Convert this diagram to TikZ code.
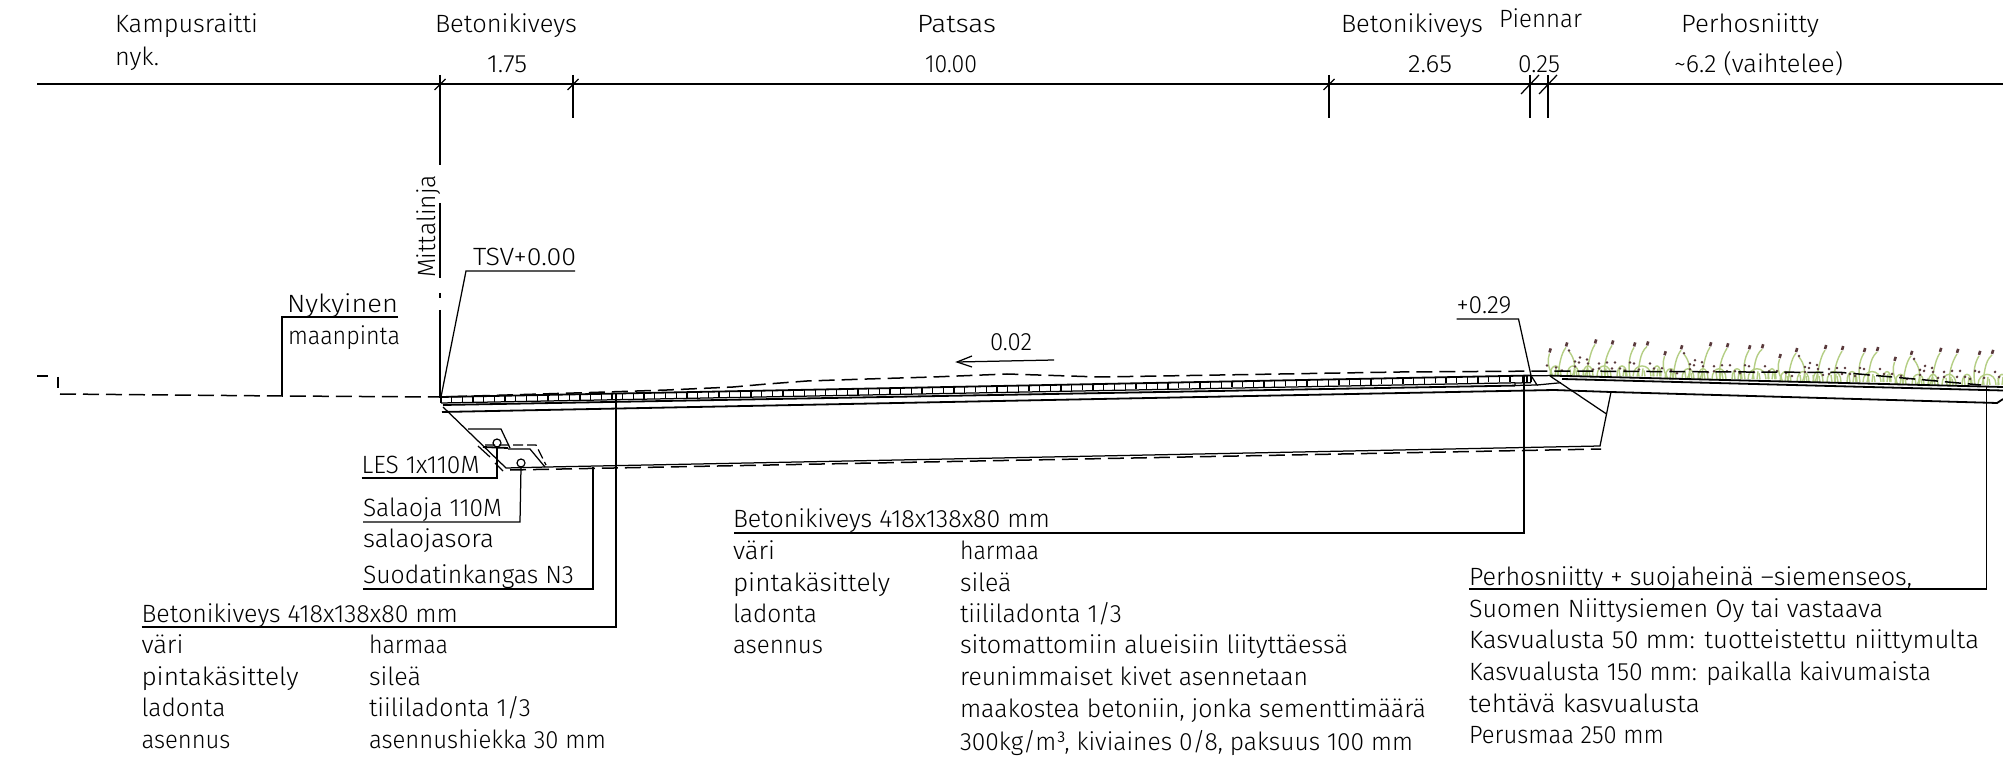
\documentclass[tikz,border=0pt]{standalone}
\usepackage{graphicx}
\usepackage{fontspec}
\setmainfont{Fira Sans Light}
\newcommand\fit[2]{\resizebox{#1pt}{\height}{#2}}
\definecolor{stemgreen}{HTML}{B4CE84}
\definecolor{seedbrown}{HTML}{5A3A3C}
\tikzset{
  lbl/.style={anchor=base west,inner sep=0pt,outer sep=0pt,font=\fontsize{25}{28}\selectfont,text=black},
  dimline/.style={line width=1.6pt},
  thinline/.style={line width=1.25pt},
  baseline/.style={line width=1.8pt},
  ground/.style={line width=1.5pt,dash pattern=on 16pt off 7pt},
  stem/.style={draw=stemgreen,line width=1.4pt},
  seed/.style={draw=seedbrown,line width=2.6pt},
  seeddot/.style={fill=seedbrown,radius=1.4pt}
}
\newcommand\meadowtile{%
  \draw[stem] (6,1) .. controls (1,-8) and (0,-15) .. (2.5,-22);
  \draw[stem] (11,1) .. controls (12,-10) and (14,-22) .. (19,-28);
  \draw[stem] (25,1) .. controls (30,-8) and (27,-18) .. (22,-24);
  \draw[stem] (38,1) .. controls (42,-10) and (42,-22) .. (48,-31);
  \draw[stem] (58,1) .. controls (56,-10) and (60,-22) .. (65,-30);
  \draw[stem] (83,1) .. controls (81,-10) and (82,-20) .. (87,-28);
  \draw[stem] (90,1) .. controls (93,-10) and (92,-22) .. (100,-29);
  \foreach \a/\b/\c in {3/8/14,20/27/32,36/40/46,50/58/64,70/76/80,86/95/104,106/110/114}{
    \draw[stem] (\a,1) .. controls (\a,-13) and (\c,-13) .. (\c,1);
    \draw[stem] (\b,1) -- (\b+1,-7);
    \draw[stem] (\b+3,1) -- (\b+2,-5);
    \draw[stem] (\b-3,1) -- (\b-4,-6);
  }
  \foreach \a/\b in {2.5/-23,19/-29,48/-32,65/-31,87/-29,100/-30}{
    \draw[seed] (\a,\b) -- (\a+1.2,\b-4);
  }
  \foreach \a/\b in {9/-8,0/-10,22/-25,28/-9,33/-18,28/-14,32/-13,40/-16,41/-12,52/-12,52/-7,60/-13,68/-13,65/-7,73/-7,83/-13,87/-12,92/-6,103/-12,107/-7,15/-5,46/-6,78/-5}{
    \fill[seeddot] (\a,\b) circle;
  }
}
\begin{document}
\begin{tikzpicture}[x=1pt,y=-1pt]
\useasboundingbox (0,0) rectangle (2003,783);
\fill[white] (0,0) rectangle (2003,783);

% meadow planting
\begin{scope}
  \clip (1530,330) rectangle (2003,395);
  \foreach \k in {0,1,2,3}{
    \pgfmathsetmacro\tx{1547+115*\k}
    \pgfmathsetmacro\ty{375.5+0.0245*(\tx-1550)}
    \begin{scope}[shift={(\tx,\ty)}]
      \meadowtile
    \end{scope}
  }
\end{scope}

% dimension line
\draw[dimline] (37,84) -- (2003,84);
\foreach \x/\yb in {573/118,1329/118,1530/118,1548/118}{
  \draw[thinline] (\x,75) -- (\x,\yb);
}
\foreach \x in {440,573,1329}{
  \draw[thinline] (\x-5.5,90) -- (\x+5.5,79);
}
\foreach \x in {1530,1548}{
  \draw[thinline] (\x-9,94) -- (\x+9,75);
}
% measure line
\draw[thinline] (440,75) -- (440,165);
\draw[thinline] (440,203) -- (440,278);
\draw[thinline] (440,293) -- (440,298);
\draw[thinline] (440,310) -- (440,398);

% top labels
\node[lbl] (kamp) at (115,33) {\fit{143}{Kampusraitti}};
\node[lbl] (nyk) at (115,66) {\fit{44}{nyk.}};
\node[lbl] (bet1) at (435,33) {\fit{142}{Betonikiveys}};
\node[lbl] (d175) at (487,73) {\fit{40}{1.75}};
\node[lbl] (pat) at (917,33) {\fit{79}{Patsas}};
\node[lbl] (d10) at (925,73) {\fit{52}{10.00}};
\node[lbl] (bet2) at (1341,33) {\fit{142}{Betonikiveys}};
\node[lbl] (pien) at (1499,28) {\fit{83}{Piennar}};
\node[lbl] (d265) at (1408,73) {\fit{44}{2.65}};
\node[lbl] (d025) at (1518,73) {\fit{42}{0.25}};
\node[lbl] (perh) at (1681,33) {\fit{138}{Perhosniitty}};
\node[lbl] (d62) at (1674,73) {\fit{169}{\textasciitilde6.2 (vaihtelee)}};
\node[lbl,rotate=90] (mitta) at (435,278) {\fit{103}{Mittalinja}};

% existing ground
\draw[thinline] (37,376) -- (48,376);
\draw[thinline] (58,377) -- (58,388);
\draw[ground] (60,394) -- (282,396) -- (441,397) -- (607,392) -- (667,390) -- (733,387) -- (767,384) -- (807,381) -- (867,379) -- (933,377) -- (1007,374) -- (1100,377) -- (1250,374.5) -- (1400,372) -- (1554,371) -- (1842,372.5) -- (1981,385);

% pavement
\coordinate (pA) at (441,397);
\coordinate (pB) at (1531,375.5);
\draw[baseline] (pA) -- (pB);
\draw[thinline] (441,403) -- (1515,382.8);
\draw[baseline] (443,405) -- (1515,385.6);
\draw[thinline] (441,397) -- (441,403);
\foreach \i in {1,...,100}{
  \pgfmathsetmacro\xa{441+10.69*\i}
  \pgfmathsetmacro\ya{397-0.0197*(\xa-441)}
  \draw[line width=1.3pt] (\xa,\ya) -- (\xa,\ya+6);
}
\foreach \xa in {1523,1527,1531}{
  \pgfmathsetmacro\ya{397-0.0197*(\xa-441)}
  \draw[line width=1.3pt] (\xa,\ya) -- (\xa,\ya+6.5);
}
% kerb end
\draw[thinline] (1515,383) -- (1515,385.5) -- (1537,385) -- (1531,375.5);
\draw[thinline] (1515,383) -- (1531,382.7);
\draw[thinline] (1531,375.8) -- (1550,375.6);
\draw[thinline] (1537,385) -- (1561,382.7);
% base course
\draw[baseline] (442,412) -- (1554,390) -- (1611,392) -- (1997,403) -- (2003,399);
\draw[thinline] (1550,376) -- (1606.5,414);
\draw[thinline] (1611,392) -- (1600,446) -- (547,467) -- (506,468) -- (443,407);
\draw[ground] (510,470) -- (1601,449);
% drain details
\draw[thinline] (468,429) -- (501,429) -- (510,448);
\draw[baseline] (483,447) -- (508,448);
\draw[thinline] (508,449) -- (530,449) -- (545,467);
\draw[thinline,dash pattern=on 10pt off 4pt] (485,445) -- (536,445) -- (546,465);
\draw[thinline] (478,446) -- (490,457);
\draw[thinline] (495,463) -- (503,471);
\node[circle,draw,line width=1.2pt,minimum size=8pt,inner sep=0pt] (les) at (497,443) {};
\node[circle,draw,line width=1.2pt,minimum size=8pt,inner sep=0pt] (sal) at (521,463) {};
% meadow layers
\draw[baseline] (1550,375.6) -- (2003,387);
\draw[baseline] (1562,379) -- (2003,390.5);

% slope arrow
\coordinate (arrR) at (1054,360);
\coordinate (arrL) at (957,362);
\draw[thinline] (arrR) -- (arrL);
\draw[thinline] (972,356) -- (arrL) -- (972,367);
\node[lbl] (slope) at (990,351) {\fit{42}{0.02}};

% leaders upper
\node[lbl] (tsv) at (473,266) {\fit{103}{TSV+0.00}};
\coordinate (tsvR) at (575,271);
\coordinate (tsvK) at (466,271);
\draw[thinline] (tsvR) -- (tsvK) -- (pA);
\node[lbl] (nyky) at (287,313) {\fit{111}{Nykyinen}};
\node[lbl] (maan) at (288,345) {\fit{112}{maanpinta}};
\coordinate (nyR) at (398,317);
\coordinate (nyK) at (282,317);
\coordinate (nyE) at (282,396);
\draw[thinline] (nyR) -- (nyK) -- (nyE);
\node[lbl] (p029) at (1456.5,314) {\fit{55}{+0.29}};
\coordinate (p29L) at (1456.5,319);
\coordinate (p29K) at (1518.5,319);
\draw[thinline] (p29L) -- (p29K) -- (pB);

% drain labels
\node[lbl] (tles) at (361.5,473) {\fit{118}{LES 1x110M}};
\coordinate (lesL) at (361.5,478);
\coordinate (lesK) at (497,478);
\draw[thinline] (lesL) -- (lesK) -- (les.south);
\node[lbl] (tsal) at (363,516) {\fit{139}{Salaoja 110M}};
\coordinate (salL) at (363,522);
\coordinate (salK) at (520,522);
\draw[thinline] (salL) -- (salK) -- (sal.south);
\node[lbl] (tsora) at (363,547) {\fit{131}{salaojasora}};
\node[lbl] (tsuo) at (363,583) {\fit{211}{Suodatinkangas N3}};
\coordinate (suoL) at (363,589);
\coordinate (suoK) at (593,589);
\coordinate (suoE) at (593,467);
\draw[thinline] (suoL) -- (suoK) -- (suoE);

% left spec
\node[lbl] (b1h) at (141.5,622) {\fit{316.5}{Betonikiveys 418x138x80 mm}};
\coordinate (b1L) at (141.5,627);
\coordinate (b1K) at (616,627);
\coordinate (b1E) at (616,393);
\draw[thinline] (b1L) -- (b1K) -- (b1E);
\node[lbl] (b1a) at (141.5,653) {\fit{42}{väri}};
\node[lbl] (b1b) at (141.5,685) {\fit{157}{pintakäsittely}};
\node[lbl] (b1c) at (141.5,716) {\fit{84}{ladonta}};
\node[lbl] (b1d) at (141.5,748) {\fit{89}{asennus}};
\node[lbl] (b1e) at (369,653) {\fit{79}{harmaa}};
\node[lbl] (b1f) at (369,685) {\fit{52}{sileä}};
\node[lbl] (b1g) at (369,716) {\fit{162}{tiililadonta 1/3}};
\node[lbl] (b1i) at (369,748) {\fit{237}{asennushiekka 30 mm}};

% centre spec
\node[lbl] (b2h) at (733,527) {\fit{317}{Betonikiveys 418x138x80 mm}};
\coordinate (b2L) at (734,533);
\coordinate (b2K) at (1524,533);
\coordinate (b2E) at (1524,375);
\draw[thinline] (b2L) -- (b2K) -- (b2E);
\node[lbl] (b2a) at (733,559) {\fit{42}{väri}};
\node[lbl] (b2b) at (733,591) {\fit{157}{pintakäsittely}};
\node[lbl] (b2c) at (733,622) {\fit{84}{ladonta}};
\node[lbl] (b2d) at (733,653) {\fit{90}{asennus}};
\node[lbl] (b2e) at (960,559) {\fit{79}{harmaa}};
\node[lbl] (b2f) at (960,591) {\fit{51.5}{sileä}};
\node[lbl] (b2g) at (960,622) {\fit{162}{tiililadonta 1/3}};
\node[lbl] (b2i) at (960,653) {\fit{388}{sitomattomiin alueisiin liityttäessä}};
\node[lbl] (b2j) at (960,685) {\fit{348}{reunimmaiset kivet asennetaan}};
\node[lbl] (b2k) at (960,717) {\fit{466}{maakostea betoniin, jonka sementtimäärä}};
\node[lbl] (b2l) at (960,750) {\fit{453}{300kg/m³, kiviaines 0/8, paksuus 100 mm}};

% meadow spec
\node[lbl] (m1) at (1469,585) {\fit{443}{Perhosniitty + suojaheinä –siemenseos,}};
\coordinate (mL) at (1469,589);
\coordinate (mK) at (1986.5,589);
\coordinate (mE) at (1986.5,387);
\draw[thinline] (mL) -- (mK) -- (mE);
\node[lbl] (m2) at (1469,617) {\fit{414}{Suomen Niittysiemen Oy tai vastaava}};
\node[lbl] (m3) at (1469,648) {\fit{510}{Kasvualusta 50 mm: tuotteistettu niittymulta}};
\node[lbl] (m4) at (1469,680) {\fit{462}{Kasvualusta 150 mm: paikalla kaivumaista}};
\node[lbl] (m5) at (1469,712) {\fit{231}{tehtävä kasvualusta}};
\node[lbl] (m6) at (1469,743) {\fit{195}{Perusmaa 250 mm}};
\end{tikzpicture}
\end{document}
